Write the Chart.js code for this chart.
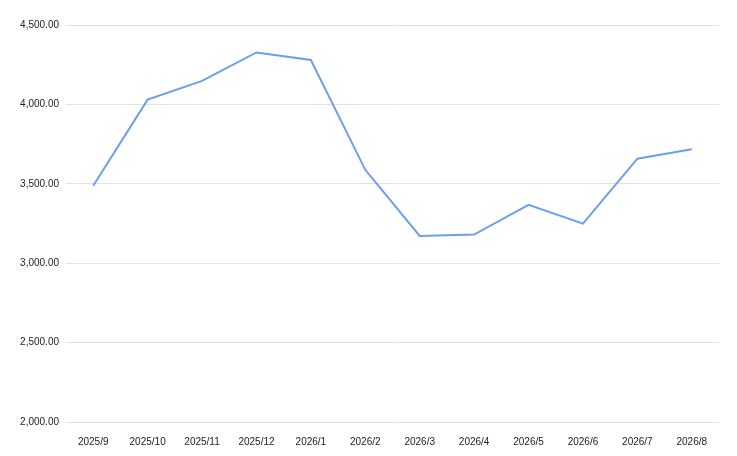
<!DOCTYPE html>
<html>
<head>
<meta charset="utf-8">
<script src="https://cdn.jsdelivr.net/npm/chart.js@4/dist/chart.umd.min.js"></script>
<style>
  html, body { margin: 0; padding: 0; background: #fff; }
  #wrap { width: 737px; height: 456px; }
</style>
</head>
<body>
<div id="wrap"><canvas id="chart" width="737" height="456"></canvas></div>
<script>
const months = ["2025/9", "2025/10", "2025/11", "2025/12", "2026/1", "2026/2",
  "2026/3", "2026/4", "2026/5", "2026/6", "2026/7", "2026/8"];
const values = [3488, 4030, 4148, 4327, 4280, 3588, 3172, 3180, 3367, 3249, 3658, 3717];
const yMin = 2000;
const yMax = 4500;
const yStep = 500;

const fmt = new Intl.NumberFormat("en-US", { minimumFractionDigits: 2, maximumFractionDigits: 2 });

new Chart(document.getElementById("chart"), {
  type: "line",
  data: {
    labels: months,
    datasets: [{
      data: values,
      borderColor: "#6d9eeb",
      borderWidth: 2,
      tension: 0,
      pointRadius: 0,
      fill: false
    }]
  },
  options: {
    responsive: false,
    animation: false,
    layout: { padding: { top: 25, right: 18, left: 0, bottom: 0 } },
    plugins: {
      legend: { display: false },
      tooltip: { enabled: false }
    },
    scales: {
      x: {
        offset: true,
        grid: { display: false },
        border: { display: false },
        ticks: {
          color: "#222",
          font: { family: "'Liberation Sans', Arial", size: 10 },
          padding: 6,
          maxRotation: 0,
          autoSkip: false
        },
        afterFit: (s) => { s.height = 34; }
      },
      y: {
        min: yMin,
        max: yMax,
        grid: { color: "#e3e3e3", drawTicks: false },
        border: { display: false },
        ticks: {
          stepSize: yStep,
          color: "#222",
          font: { family: "'Liberation Sans', Arial", size: 10 },
          padding: 7,
          callback: (v) => fmt.format(v)
        },
        afterFit: (s) => { s.width = 66; }
      }
    }
  }
});
</script>
</body>
</html>
